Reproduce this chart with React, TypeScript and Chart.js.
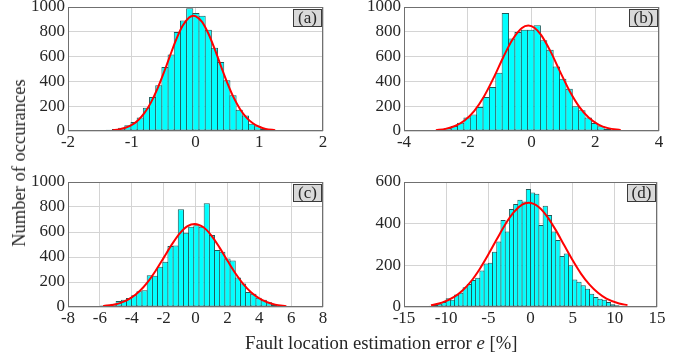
import React, { useEffect, useRef } from "react";
import { Chart, registerables } from "chart.js";

Chart.register(...registerables);

// ---- Panel (a) ----
const binWidthA = 0.097;
const firstCenterA = -1.6425;
const countsA = [4, 5, 8, 10, 16, 27, 46, 73, 108, 188, 274, 368, 516, 616, 798, 892, 990, 952, 930, 817, 672, 556, 409, 288, 172, 126, 59, 38, 19, 11, 5, 5, 2];
const fitXA = [-1.3, -1.2, -1.1, -1.0, -0.9, -0.8, -0.7, -0.6, -0.5, -0.4, -0.3, -0.2, -0.1, -0.03, 0, 0.1, 0.2, 0.3, 0.4, 0.5, 0.6, 0.7, 0.8, 0.9, 1.0, 1.1, 1.25];
const fitYA = [6, 13, 26, 49, 87, 146, 229, 337, 466, 606, 741, 850, 916, 930, 927, 882, 788, 662, 522, 387, 269, 176, 108, 62, 34, 17, 6];

// ---- Panel (b) ----
const binWidthB = 0.2;
const firstCenterB = -3.82;
const countsB = [1, 2, 3, 5, 8, 13, 24, 40, 67, 108, 134, 194, 274, 355, 470, 952, 745, 798, 817, 817, 852, 731, 656, 521, 422, 341, 199, 167, 108, 65, 38, 19, 11, 5, 3, 2, 1, 1];
const fitXB = [-3.0, -2.7, -2.4, -2.1, -1.8, -1.5, -1.2, -0.9, -0.6, -0.3, -0.1, 0.1, 0.3, 0.6, 0.9, 1.2, 1.5, 1.8, 2.1, 2.4, 2.8];
const fitYB = [7, 17, 40, 84, 160, 274, 422, 587, 736, 831, 850, 831, 775, 640, 477, 320, 194, 106, 52, 23, 7];

// ---- Panel (c) ----
const binWidthC = 0.325;
const firstCenterC = -6.4425;
const countsC = [4, 8, 13, 19, 27, 48, 59, 72, 94, 126, 134, 255, 250, 322, 362, 488, 493, 783, 595, 643, 654, 643, 831, 576, 456, 442, 389, 372, 236, 188, 121, 107, 75, 59, 38, 21, 13, 8, 5, 3, 2];
const fitXC = [-5.8, -5.0, -4.5, -4.0, -3.5, -3.0, -2.5, -2.0, -1.5, -1.0, -0.5, -0.05, 0.5, 1.0, 1.5, 2.0, 2.5, 3.0, 3.5, 4.0, 4.5, 5.0, 5.7];
const fitYC = [7, 22, 43, 77, 128, 199, 290, 393, 497, 587, 647, 665, 638, 571, 477, 372, 270, 183, 116, 69, 38, 19, 7];

// ---- Panel (d) ----
const binWidthD = 0.5;
const firstCenterD = -14.25;
const countsD = [1, 1, 2, 3, 4, 6, 10, 16, 24, 42, 35, 60, 68, 95, 110, 130, 140, 175, 209, 212, 265, 314, 418, 362, 470, 495, 515, 507, 566, 550, 544, 394, 486, 442, 362, 322, 245, 257, 201, 132, 121, 105, 88, 64, 48, 40, 35, 24, 13, 8, 6, 4, 3, 2, 2, 1, 1, 2, 1];
const fitXD = [-11.8, -10.5, -9, -8, -7, -6, -5, -4, -3, -2, -1, -0.2, 1, 2, 3, 4, 5, 6, 7, 8, 9, 10.5, 11.5];
const fitYD = [9, 21, 50, 82, 126, 184, 252, 325, 396, 454, 491, 500, 479, 433, 369, 296, 224, 159, 107, 68, 40, 17, 9];

// ---- Axis ranges and tick steps ----
const xLimits = [[-2, 2], [-4, 4], [-8, 8], [-15, 15]];
const xSteps = [1, 2, 2, 5];
const yMaxes = [1000, 1000, 1000, 600];
const panelTags = ["(a)", "(b)", "(c)", "(d)"];

type Panel = {
  tag: string;
  counts: number[];
  firstCenter: number;
  binWidth: number;
  fitX: number[];
  fitY: number[];
  xMin: number;
  xMax: number;
  xStep: number;
  yMax: number;
  rect: { L: number; T: number; R: number; B: number };
};

const rects = [
  { L: 68, T: 7, R: 323, B: 131 },
  { L: 404, T: 7, R: 659, B: 131 },
  { L: 68, T: 182, R: 323, B: 307 },
  { L: 404, T: 182, R: 657, B: 307 },
];

const seriesSets = [
  [countsA, firstCenterA, binWidthA, fitXA, fitYA],
  [countsB, firstCenterB, binWidthB, fitXB, fitYB],
  [countsC, firstCenterC, binWidthC, fitXC, fitYC],
  [countsD, firstCenterD, binWidthD, fitXD, fitYD],
] as const;

const panels: Panel[] = seriesSets.map((s, i) => ({
  tag: panelTags[i],
  counts: s[0] as number[],
  firstCenter: s[1] as number,
  binWidth: s[2] as number,
  fitX: s[3] as number[],
  fitY: s[4] as number[],
  xMin: xLimits[i][0],
  xMax: xLimits[i][1],
  xStep: xSteps[i],
  yMax: yMaxes[i],
  rect: rects[i],
}));

const PAD_L = 10;
const PAD_T = 20;
const PAD_R = 20;
const PAD_B = 15;
const Y_AXIS_W = 50;
const X_AXIS_H = 25;

const TEXT = "#262626";
const GRID = "#d4d4d4";
const FRAME = "#707070";
const FONT = "'Liberation Serif', 'Times New Roman', serif";

const framePlugin = {
  id: "frameBox",
  afterDraw(chart: any) {
    const { ctx, chartArea } = chart;
    const { left, top, right, bottom } = chartArea;
    ctx.save();
    ctx.strokeStyle = FRAME;
    ctx.lineWidth = 1;
    ctx.strokeRect(Math.round(left) + 0.5, Math.round(top) + 0.5, Math.round(right - left) - 1, Math.round(bottom - top) - 1);
    ctx.restore();
  },
};

function HistogramPanel({ p }: { p: Panel }) {
  const ref = useRef<HTMLCanvasElement | null>(null);
  const { L, T, R, B } = p.rect;
  const cw = R - L + Y_AXIS_W + PAD_L + PAD_R;
  const ch = B - T + PAD_T + PAD_B + X_AXIS_H;

  useEffect(() => {
    if (!ref.current) return;
    const binPx = (p.binWidth * (R - L)) / (p.xMax - p.xMin);
    const bars = p.counts.map((c, i) => ({ x: p.firstCenter + i * p.binWidth, y: c }));
    const fit = p.fitX.map((x, i) => ({ x, y: p.fitY[i] }));
    const tickFont = { family: FONT, size: 17 };

    const chart = new Chart(ref.current, {
      type: "bar",
      data: {
        datasets: [
          {
            type: "line",
            data: fit,
            borderColor: "#ff0000",
            borderWidth: 2,
            pointRadius: 0,
            cubicInterpolationMode: "monotone",
            fill: false,
            order: 0,
          } as any,
          {
            type: "bar",
            data: bars,
            backgroundColor: "#00ffff",
            borderColor: "#1e5a5a",
            borderWidth: 1,
            borderSkipped: false,
            categoryPercentage: 1,
            barPercentage: 1 + 1 / binPx,
            order: 1,
          } as any,
        ],
      },
      options: {
        responsive: false,
        animation: false,
        devicePixelRatio: 1,
        layout: { padding: { left: PAD_L, top: PAD_T, right: PAD_R, bottom: PAD_B } },
        plugins: { legend: { display: false }, tooltip: { enabled: false } },
        scales: {
          x: {
            type: "linear",
            min: p.xMin,
            max: p.xMax,
            offset: false,
            grid: { color: GRID, offset: false, drawTicks: false },
            border: { display: false },
            ticks: {
              stepSize: p.xStep,
              padding: 1,
              color: TEXT,
              font: tickFont,
              maxRotation: 0,
              autoSkip: false,
              callback: (v: any) => String(v),
            },
            afterFit: (s: any) => {
              s.height = X_AXIS_H;
            },
          },
          y: {
            type: "linear",
            min: 0,
            max: p.yMax,
            grid: { color: GRID, drawTicks: false },
            border: { display: false },
            ticks: {
              stepSize: 200,
              padding: 3,
              color: TEXT,
              font: tickFont,
              callback: (v: any) => String(v),
            },
            afterFit: (s: any) => {
              s.width = Y_AXIS_W;
            },
          },
        },
      } as any,
      plugins: [framePlugin],
    });
    return () => chart.destroy();
  }, [p]);

  return (
    <>
      <canvas
        ref={ref}
        width={cw}
        height={ch}
        style={{
          position: "absolute",
          left: L - Y_AXIS_W - PAD_L,
          top: T - PAD_T,
          width: cw,
          height: ch,
        }}
      />
      <div
        style={{
          position: "absolute",
          left: R - 30,
          top: T + 2,
          width: 29,
          height: 18,
          boxSizing: "border-box",
          border: "1px solid #3a3a3a",
          background: "#d9d9d9",
          color: TEXT,
          font: `17px ${FONT}`,
          lineHeight: "16px",
          textAlign: "center",
        }}
      >
        {p.tag}
      </div>
    </>
  );
}

export default function App() {
  return (
    <div
      style={{
        position: "absolute",
        left: 0,
        top: 0,
        width: 687,
        height: 358,
        overflow: "hidden",
        background: "#ffffff",
        fontFamily: FONT,
      }}
    >
      {panels.map((p) => (
        <HistogramPanel key={p.tag} p={p} />
      ))}
      <div
        style={{
          position: "absolute",
          left: 19,
          top: 163,
          transform: "translate(-50%, -50%) rotate(-90deg)",
          whiteSpace: "nowrap",
          font: `18.5px ${FONT}`,
          lineHeight: "20px",
          color: TEXT,
        }}
      >
        Number of occurances
      </div>
      <div
        style={{
          position: "absolute",
          left: 245,
          top: 333,
          whiteSpace: "nowrap",
          font: `18.7px ${FONT}`,
          lineHeight: "20px",
          color: TEXT,
        }}
      >
        Fault location estimation error <i>e</i> [%]
      </div>
    </div>
  );
}
